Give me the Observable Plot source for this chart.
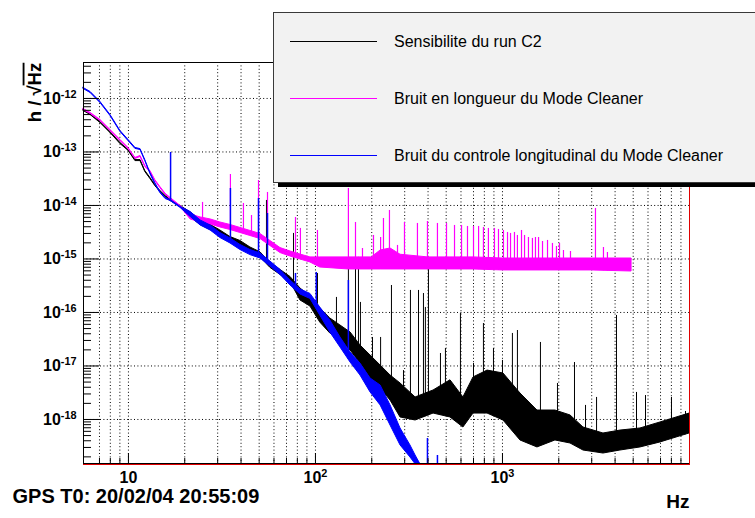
<!DOCTYPE html>
<html><head><meta charset="utf-8">
<script src="https://cdn.jsdelivr.net/npm/d3@7"></script>
<script src="https://cdn.jsdelivr.net/npm/@observablehq/plot@0.6"></script>
<style>
body{margin:0;background:#fff;}
#wrap{position:relative;width:755px;height:518px;overflow:hidden;background:#fff;}
</style></head>
<body><div id="wrap"></div>
<script>
// ---- series names / colours ----
const seriesNames = ["Sensibilite du run C2", "Bruit en longueur du Mode Cleaner", "Bruit du controle longitudinal du Mode Cleaner"];
const seriesColors = ["#000000", "#ff00ff", "#0000ff"];

// ---- axis ticks ----
const xDomain = [5.75, 10000];
const yDomain = [1.44e-19, 4.7e-12];
const xTicksMajor = [10, 100, 1000];
const xTickLabels = ["10", "10^2", "10^3"];
const xTicksMinor = [7,8,9,20,30,40,50,60,70,80,90,200,300,400,500,600,700,800,900,2000,3000,4000,5000,6000,7000,8000,9000];
const yTicksMajor = [1e-18, 1e-17, 1e-16, 1e-15, 1e-14, 1e-13, 1e-12];
const yTickLabels = ["10^-18", "10^-17", "10^-16", "10^-15", "10^-14", "10^-13", "10^-12"];
const yMinorMult = [2,3,4,5,6,7,8,9];

// ---- Sensibilite du run C2 (noise band: upper / lower envelope) ----
const blackF = [5.75,6.27,7.08,8.01,9.06,10,10.9,11.6,12.3,13.1,13.9,14.8,15.8,16.8,19.0,21.5,24.3,27.5,31.0,35.1,39.7,44.9,50.8,57.4,65.0,73.5,83.1,94.0,106,120,136,154,174,197,223,252,285,343,428,527,618,700,832,1012,1248,1538,1919,2310,2710,3467,4274,5468,6995,10000];
const blackHi = [6.10e-13,5.13e-13,3.64e-13,2.36e-13,1.47e-13,1.09e-13,7.05e-14,7.05e-14,4.42e-14,3.27e-14,2.42e-14,1.87e-14,1.50e-14,1.27e-14,9.78e-15,7.40e-15,5.36e-15,4.32e-15,3.41e-15,2.57e-15,2.17e-15,1.64e-15,1.33e-15,8.47e-16,6.24e-16,4.61e-16,2.81e-16,1.99e-16,1.19e-16,7.73e-17,5.71e-17,4.23e-17,2.42e-17,1.57e-17,1.02e-17,6.64e-18,4.71e-18,2.58e-18,3.48e-18,5.4e-18,2.58e-18,6.10e-18,8.2e-18,7.24e-18,3.06e-18,1.47e-18,1.47e-18,1.19e-18,7.08e-19,5.47e-19,6.2e-19,6.79e-19,8.79e-19,1.29e-18];
const blackLo = [5.84e-13,4.91e-13,3.48e-13,2.26e-13,1.41e-13,1.05e-13,6.75e-14,6.75e-14,4.23e-14,3.13e-14,2.32e-14,1.79e-14,1.44e-14,1.21e-14,9.36e-15,5.96e-15,4.32e-15,3.48e-15,2.75e-15,2.07e-15,1.75e-15,1.32e-15,1.07e-15,6.82e-16,5.03e-16,3.72e-16,1.68e-16,1.29e-16,6.50e-17,4.05e-17,3.00e-17,1.95e-17,1.11e-17,5.83e-18,3.79e-18,2.26e-18,1.09e-18,9.57e-19,1.29e-18,1.09e-18,7.08e-19,1.29e-18,1.29e-18,9.57e-19,4.05e-19,3.00e-19,4.05e-19,3.56e-19,2.63e-19,2.31e-19,2.63e-19,3.00e-19,3.72e-19,5.47e-19];
const blackSpikeF = [54.7,76.3,102.5,129.5,150,163.7,169.8,174,201.8,223,254.9,295.6,322,355.6,378,387,402,466,495.5,596,700,791,895,1000,1130,1202,1596,1968,2427,2780,3184,4070,5208,5818,8010,9520];
const blackSpikeV = [1.24e-14,3.0e-15,5.36e-16,1.91e-16,9.38e-16,8.24e-16,1.07e-15,1.54e-16,3.41e-17,3.41e-17,3.19e-16,8.2e-18,2.58e-16,2.58e-16,2.26e-16,1.24e-16,6.64e-16,1.71e-17,2.12e-17,9.57e-17,1.11e-17,6.22e-17,2.12e-17,1.27e-17,4.05e-17,4.6e-17,2.75e-17,4.71e-18,1.16e-17,1.83e-18,2.58e-18,8.8e-17,3.2e-18,2.8e-18,2.58e-18,1.41e-18];

// ---- Bruit en longueur du Mode Cleaner ----
const magF = [5.75,6.27,7.08,8.01,9.06,10,10.9,11.6,12.3,13.1,13.9,14.8,15.8,16.8,19.0,21.5,24.3,27.5,31.0,35.1,39.7,44.9,50.8,57.4,65.0,73.5,83.1,94.0,106,150,200,223,252,285,400,700,1000,2000,3000,4900];
const magHi = [6.36e-13,5.37e-13,3.97e-13,2.58e-13,1.68e-13,1.19e-13,7.72e-14,8.42e-14,5.48e-14,4.42e-14,2.99e-14,2.22e-14,1.65e-14,1.38e-14,9.78e-15,6.80e-15,5.97e-15,5.48e-15,4.81e-15,4.32e-15,3.80e-15,3.34e-15,2.93e-15,2.17e-15,1.60e-15,1.38e-15,1.21e-15,1.07e-15,1.07e-15,1.07e-15,1.07e-15,1.44e-15,1.57e-15,1.2e-15,1.07e-15,1.07e-15,1.02e-15,1.02e-15,1.02e-15,1.02e-15];
const magLo = [6.09e-13,5.14e-13,3.80e-13,2.47e-13,1.60e-13,1.14e-13,7.39e-14,8.06e-14,5.24e-14,4.23e-14,2.87e-14,2.12e-14,1.58e-14,1.32e-14,9.36e-15,5.48e-15,4.81e-15,4.42e-15,3.88e-15,3.48e-15,3.06e-15,2.69e-15,2.36e-15,1.75e-15,1.29e-15,1.11e-15,9.78e-16,8.59e-16,6.93e-16,6.37e-16,6.37e-16,6.37e-16,6.37e-16,6.37e-16,6.37e-16,6.37e-16,6.10e-16,6.10e-16,6.10e-16,5.83e-16];
const magSpikeF = [24.9,35.1,41.2,45.5,49.6,55.4,78.2,83.1,102.5,150,163.7,178.4,204.3,223,231,248.7,274.6,299.2,351,397,449,502,554,604,650,700,745,791,841,906,952,1012,1064,1104,1159,1202,1264,1312,1377,1446,1501,1559,1637,1741,1850,1944,2018,2119,2310,3142,3467,3641];
const magSpikeV = [1.14e-14,3.79e-14,1.09e-14,6.5e-15,2.93e-14,1.75e-14,5.97e-15,3.72e-15,3.41e-15,2.08e-14,4.81e-15,1.57e-15,2.75e-15,2.52e-15,5.71e-15,8.07e-15,1.79e-15,4.81e-15,4.61e-15,5.02e-15,4.61e-15,4.61e-15,4.23e-15,4.23e-15,4.05e-15,4.05e-15,4.05e-15,3.88e-15,3.72e-15,3.72e-15,3.56e-15,3.41e-15,3.13e-15,3.0e-15,3.13e-15,2.75e-15,3.41e-15,2.75e-15,2.52e-15,2.42e-15,2.52e-15,2.52e-15,2.12e-15,2.22e-15,1.95e-15,1.71e-15,1.95e-15,1.44e-15,1.38e-15,8.79e-15,1.64e-15,1.32e-15];

// ---- Bruit du controle longitudinal du Mode Cleaner ----
const blueF = [5.75,6.27,7.08,8.01,9.06,10,10.9,11.6,12.3,13.1,13.9,14.8,15.8,16.8,19.0,21.5,24.3,27.5,31.0,35.1,39.7,44.9,50.8,57.4,65.0,73.5,83.1,94.0,106,120,136,154,174,197,223,252,285,322,343,364,5000];
const blueHi = [1.572e-12,1.322e-12,8.61e-13,4.92e-13,2.47e-13,1.68e-13,1.19e-13,1.13e-13,7.05e-14,4.05e-14,2.64e-14,1.79e-14,1.38e-14,1.27e-14,9.38e-15,7.56e-15,5.25e-15,4.22e-15,3.06e-15,2.42e-15,1.83e-15,1.47e-15,1.27e-15,8.97e-16,6.24e-16,3.97e-16,2.70e-16,2.22e-16,1.24e-16,7.1e-17,3.41e-17,1.79e-17,1.11e-17,5.83e-18,4.32e-18,1.83e-18,6.79e-19,3.27e-19,2.12e-19,1.45e-19,1.45e-19];
const blueLo = [1.505e-12,1.266e-12,8.24e-13,4.71e-13,2.37e-13,1.60e-13,1.14e-13,1.09e-13,6.75e-14,3.87e-14,2.52e-14,1.71e-14,1.32e-14,1.21e-14,8.98e-15,6.10e-15,4.23e-15,3.40e-15,2.47e-15,1.95e-15,1.47e-15,1.18e-15,1.02e-15,7.23e-16,5.03e-16,3.20e-16,2.17e-16,1.79e-16,8.8e-17,4.23e-17,2.22e-17,1.16e-17,6.64e-18,3.2e-18,1.83e-18,7.7e-19,3.27e-19,1.95e-19,1.45e-19,1.45e-19,1.45e-19];
const blueSpikeF = [16.8,35.1,49.6,55.4,78.2,101,150,397,449];
const blueSpikeV = [9.79e-14,2.08e-14,1.35e-14,7.08e-15,5.36e-16,5.60e-16,3.97e-16,4.42e-19,2.12e-19];

// ---- helpers ----
function band(F, Hi, Lo) { return F.map((f, i) => ({f, hi: Hi[i], lo: Lo[i]})); }
function logInterp(F, V, f) {
  const i = d3.bisectRight(F, f);
  if (i <= 0) return V[0];
  if (i >= F.length) return V[V.length - 1];
  const t = (Math.log(f) - Math.log(F[i-1])) / (Math.log(F[i]) - Math.log(F[i-1]));
  return Math.exp(Math.log(V[i-1]) + t * (Math.log(V[i]) - Math.log(V[i-1])));
}
function spikes(SF, SV, F, Lo) { return SF.map((f, i) => ({f, peak: SV[i], base: logInterp(F, Lo, f)})); }

const blackBand = band(blackF, blackHi, blackLo);
const magBand = band(magF, magHi, magLo);
const blueBand = band(blueF, blueHi, blueLo);
const blackSp = spikes(blackSpikeF, blackSpikeV, blackF, blackLo);
const magSp = spikes(magSpikeF, magSpikeV, magF, magLo);
const blueSp = spikes(blueSpikeF, blueSpikeV, blueF, blueLo);

const yTicksMinor = [1e-19].concat(yTicksMajor).flatMap(d => yMinorMult.map(k => k * d)).filter(v => v > yDomain[0] && v < yDomain[1]);
const xAllTicks = xTicksMinor.concat(xTicksMajor);

const mL = 83, mR = 66, mT = 62, mB = 54, W = 755, H = 518;
const frameW = W - mL - mR, frameH = H - mT - mB;
const lblFont = "Liberation Sans, Arial, Helvetica, sans-serif";

const svg = Plot.plot({
  width: W, height: H,
  marginLeft: mL, marginRight: mR, marginTop: mT, marginBottom: mB,
  x: {type: "log", domain: xDomain, axis: null},
  y: {type: "log", domain: yDomain, axis: null},
  style: {background: "white", fontFamily: lblFont, overflow: "visible"},
  marks: [
    Plot.ruleX(xAllTicks, {x: d => d, stroke: "#000", strokeWidth: 1, strokeDasharray: "1,2.4"}),
    Plot.ruleY(yTicksMajor, {y: d => d, stroke: "#000", strokeWidth: 1, strokeDasharray: "1,2.4"}),
    Plot.areaY(blackBand, {x: "f", y1: "lo", y2: "hi", fill: seriesColors[0], stroke: seriesColors[0], strokeWidth: 1}),
    Plot.ruleX(blackSp, {x: "f", y1: "base", y2: "peak", stroke: seriesColors[0], strokeWidth: 1}),
    Plot.areaY(magBand, {x: "f", y1: "lo", y2: "hi", fill: seriesColors[1], stroke: seriesColors[1], strokeWidth: 1}),
    Plot.ruleX(magSp, {x: "f", y1: "base", y2: "peak", stroke: seriesColors[1], strokeWidth: 1.2}),
    Plot.areaY(blueBand, {x: "f", y1: "lo", y2: "hi", fill: seriesColors[2], stroke: seriesColors[2], strokeWidth: 1}),
    Plot.ruleX(blueSp, {x: "f", y1: "base", y2: "peak", stroke: seriesColors[2], strokeWidth: 1.5}),
    Plot.tickX(xTicksMinor, {x: d => d, insetTop: frameH - 6, stroke: "#000"}),
    Plot.tickX(xTicksMajor, {x: d => d, insetTop: frameH - 11, stroke: "#000"}),
    Plot.tickY(yTicksMinor, {y: d => d, insetRight: frameW - 8, stroke: "#000"}),
    Plot.tickY(yTicksMajor, {y: d => d, insetRight: frameW - 16, stroke: "#000"}),
    Plot.frame({stroke: "#e00000"}),
    Plot.ruleX([xDomain[0]], {x: d => d, stroke: "#000"}),
    Plot.ruleY([yDomain[1]], {y: d => d, stroke: "#000"}),
    Plot.ruleY([yDomain[0]], {y: d => d, stroke: "#000", dy: -1}),
    Plot.text(yTicksMajor, {y: d => d, frameAnchor: "left", dx: -7, textAnchor: "end", text: (d, i) => yTickLabels[i], fontSize: 16, fontWeight: "bold", fill: "#000"}),
    Plot.text(xTicksMajor, {x: d => d, frameAnchor: "bottom", dy: 18, textAnchor: "middle", text: (d, i) => xTickLabels[i], fontSize: 16, fontWeight: "bold", fill: "#000"}),
    Plot.text(["Hz"], {frameAnchor: "bottom-right", dy: 43, textAnchor: "end", text: d => d, fontSize: 19, fontWeight: "bold", fill: "#000"}),
    Plot.text(["h / \u221AHz"], {frameAnchor: "top-left", dx: -56, dy: 30, rotate: -90, textAnchor: "middle", text: d => d, fontSize: 18.5, fontWeight: "bold", fill: "#000"}),
    Plot.text(["GPS T0: 20/02/04 20:55:09"], {frameAnchor: "bottom-left", dx: -71, dy: 38.6, textAnchor: "start", text: d => d, fontSize: 20, fontWeight: "bold", fill: "#000"})
  ]
});

// superscripts / overline
d3.select(svg).selectAll("text").each(function() {
  const t = this.textContent;
  const sel = d3.select(this);
  if (t.includes("^")) {
    const [b, e] = t.split("^");
    sel.text(null);
    sel.append("tspan").text(b);
    sel.append("tspan").attr("dy", "-0.55em").attr("font-size", "0.68em").text(e);
  } else if (t === "h / \u221AHz") {
    sel.text(null);
    sel.append("tspan").text("h / \u221A");
    sel.append("tspan").style("text-decoration", "overline").text("Hz");
  }
});

// legend box (drawn over the plot)
const lg = d3.select(svg).append("g").attr("font-family", lblFont).attr("text-anchor", "start");
lg.append("rect").attr("x", 278).attr("y", 16).attr("width", 520).attr("height", 171).attr("fill", "#000");
lg.append("rect").attr("x", 273.5).attr("y", 12.5).attr("width", 520).attr("height", 170).attr("fill", "#f2f2f2").attr("stroke", "#3a3a3a");
const rowY = [41, 98, 155];
seriesNames.forEach((name, i) => {
  lg.append("line").attr("x1", 290).attr("x2", 377).attr("y1", rowY[i] + 0.5).attr("y2", rowY[i] + 0.5)
    .style("stroke", seriesColors[i]).style("stroke-width", "1px");
  lg.append("text").attr("x", 394).attr("y", rowY[i] + 5.5).attr("text-anchor", "start")
    .attr("font-size", 16).attr("fill", "#000").text(name);
});

document.getElementById("wrap").appendChild(svg);
</script>
</body></html>
